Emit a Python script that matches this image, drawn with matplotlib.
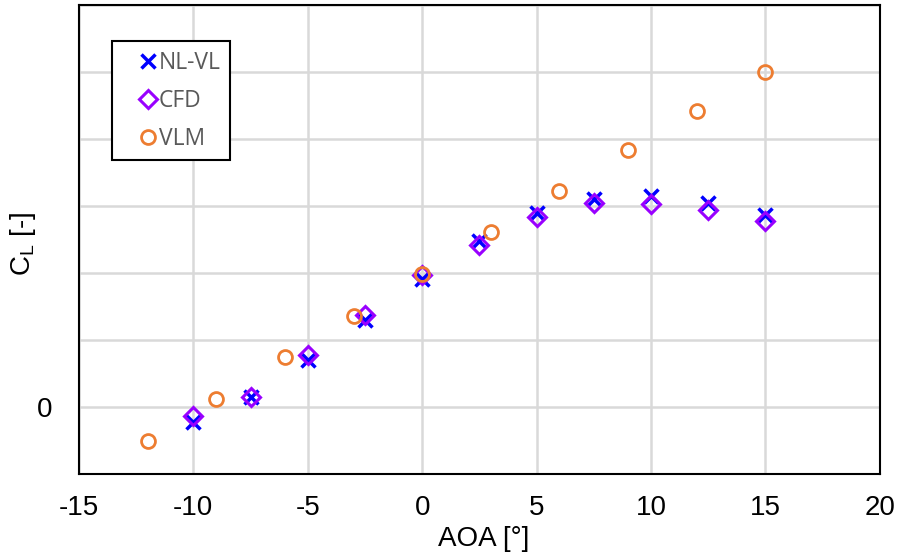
import matplotlib
matplotlib.use('Agg')
import matplotlib.pyplot as plt

plt.rcParams['font.family'] = ['Liberation Sans', 'DejaVu Sans']
plt.rcParams['mathtext.fontset'] = 'custom'
plt.rcParams['mathtext.rm'] = 'Liberation Sans'
plt.rcParams['mathtext.it'] = 'Liberation Sans'
plt.rcParams['axes.unicode_minus'] = False

# datos
aoa_nlvl = [-10, -7.5, -5, -2.5, 0, 2.5, 5, 7.5, 10, 12.5, 15]
cl_nlvl = [-0.045, 0.030, 0.139, 0.261, 0.383, 0.496, 0.578, 0.620, 0.629, 0.610, 0.572]

aoa_cfd = [-10, -7.5, -5, -2.5, 0, 2.5, 5, 7.5, 10, 12.5, 15]
cl_cfd = [-0.027, 0.030, 0.154, 0.276, 0.393, 0.484, 0.566, 0.608, 0.606, 0.588, 0.555]

aoa_vlm = [-12, -9, -6, -3, 0, 3, 6, 9, 12, 15]
cl_vlm = [-0.101, 0.024, 0.148, 0.273, 0.398, 0.522, 0.644, 0.766, 0.884, 1.0]

xticks = [-15, -10, -5, 0, 5, 10, 15, 20]
yticks = [-0.2, 0, 0.2, 0.4, 0.6, 0.8, 1.0, 1.2]
ytick_labels = ['', '0', '', '', '', '', '', '']

fig = plt.figure(figsize=(9.12, 5.59), dpi=100)
ax = fig.add_axes([0.0866, 0.152, 0.878, 0.839])

ax.plot(aoa_nlvl, cl_nlvl, linestyle='none', marker='x', markersize=10,
        markeredgewidth=2.5, color='#0000FF', label='NL-VL', zorder=3)
ax.plot(aoa_cfd, cl_cfd, linestyle='none', marker='D', markersize=9,
        markeredgewidth=2.2, markerfacecolor='none', markeredgecolor='#9900FF',
        label='CFD', zorder=4)
ax.plot(aoa_vlm, cl_vlm, linestyle='none', marker='o', markersize=10,
        markeredgewidth=2.0, markerfacecolor='none', markeredgecolor='#ED7D31',
        label='VLM', zorder=5)

ax.set_xlim(-15, 20)
ax.set_ylim(-0.2, 1.2)
ax.set_xticks(xticks)
ax.set_yticks(yticks)
ax.set_yticklabels(ytick_labels)
ax.tick_params(length=0, labelsize=20)
ax.tick_params(axis='x', pad=15)
ax.tick_params(axis='y', pad=19)
ax.grid(True, color='#d9d9d9', linewidth=1.8)
ax.set_axisbelow(True)
for s in ax.spines.values():
    s.set_linewidth(1.5)
    s.set_color('black')

ax.set_xlabel('AOA [°]', fontsize=20, labelpad=4)
ax.xaxis.set_label_coords(0.506, -0.11)
ax.set_ylabel('C$_\\mathrm{L}$ [-]', fontsize=20)
ax.yaxis.set_label_coords(-0.051, 0.49)

leg = ax.legend(loc='upper left', bbox_to_anchor=(0.041, 0.923), borderaxespad=0,
                fancybox=False, edgecolor='black', framealpha=1,
                handletextpad=-0.65, handlelength=2.3, labelspacing=0.62,
                borderpad=0.41, markerscale=1.0,
                prop={'family': 'Open Sans', 'size': 16.5})
leg.get_frame().set_linewidth(1.5)
for t in leg.get_texts():
    t.set_color('#595959')

fig.savefig('out.png', dpi=100)
